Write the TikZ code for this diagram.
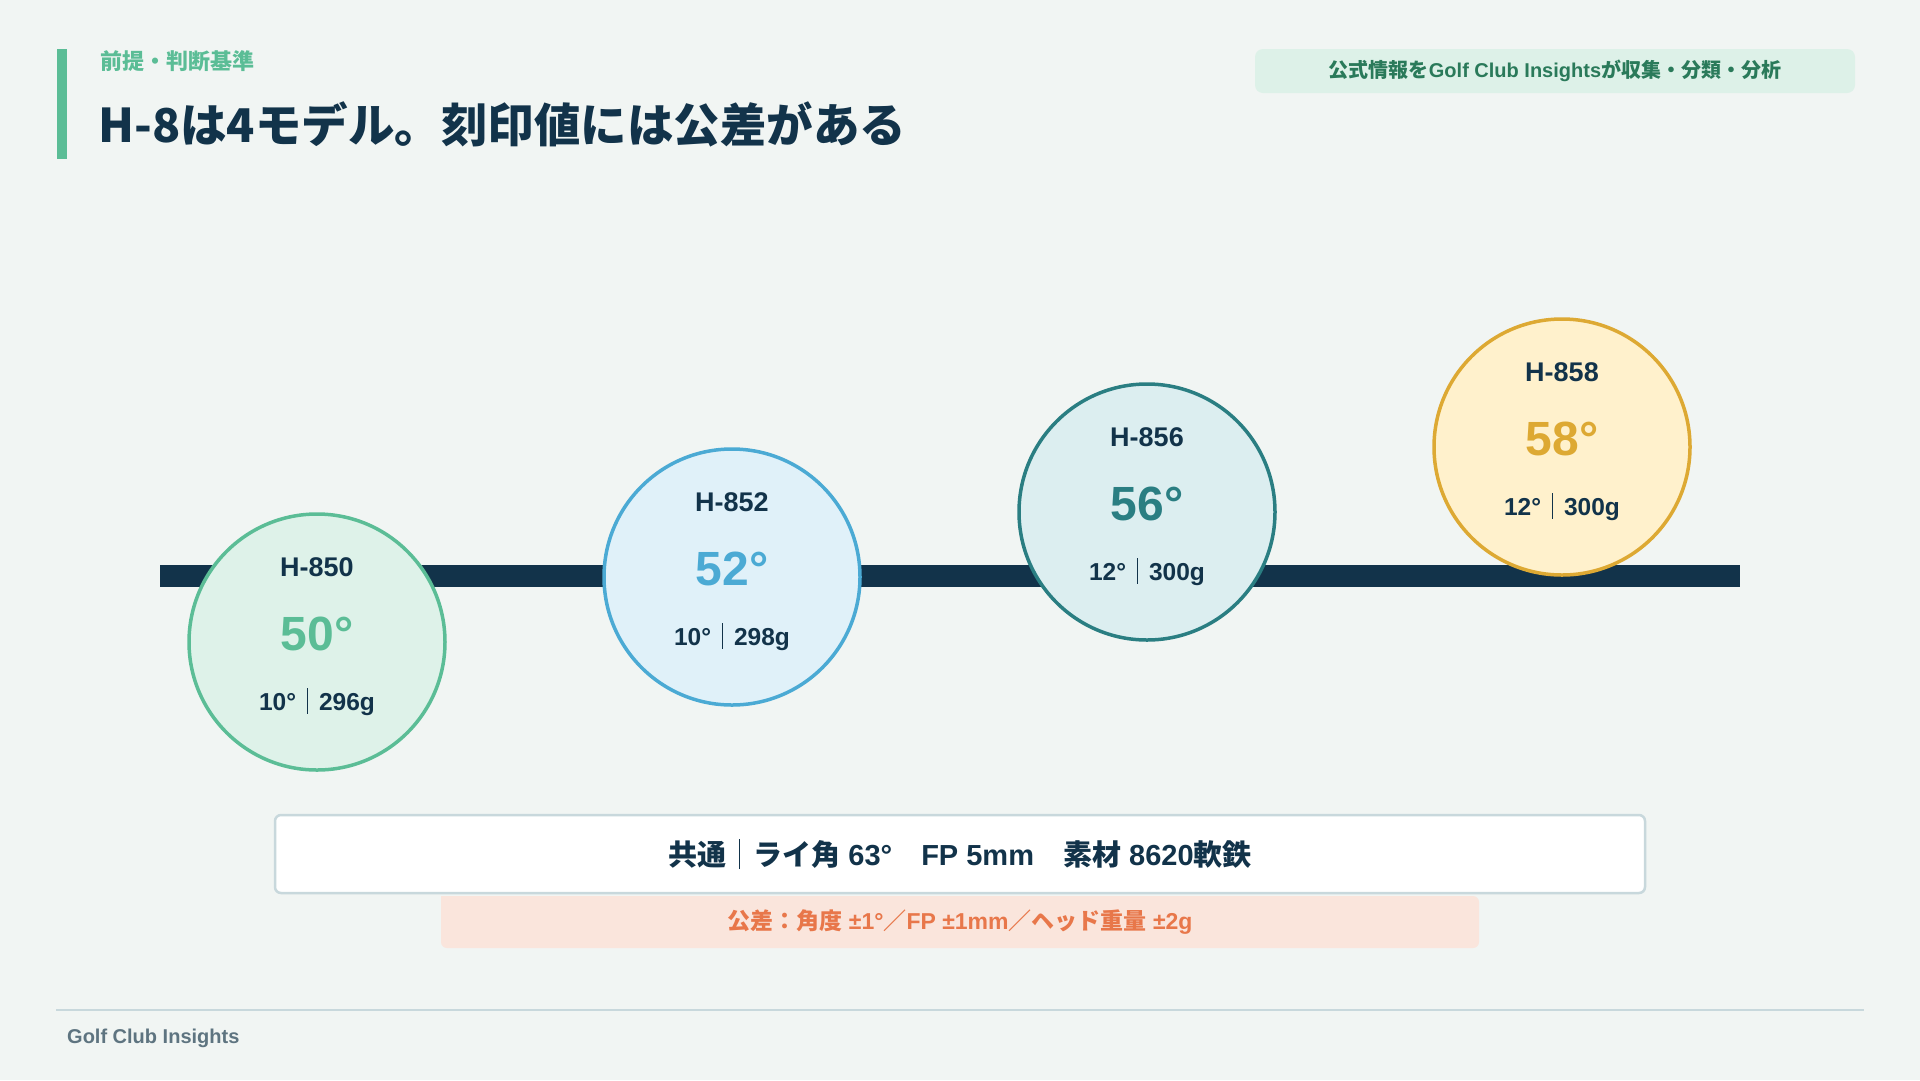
\documentclass[tikz,border=0pt]{standalone}
\usepackage{fontspec}
\setmainfont{Liberation Sans}
\newfontfamily\jp{Noto Sans CJK JP}
\usetikzlibrary{positioning}
\definecolor{bg}{HTML}{F1F5F3}
\definecolor{navy}{HTML}{12334A}
\definecolor{gA}{HTML}{5BBD96}\definecolor{gAf}{HTML}{DEF2E9}
\definecolor{bA}{HTML}{4BAAD4}\definecolor{bAf}{HTML}{E0F1F9}
\definecolor{tA}{HTML}{2A7E82}\definecolor{tAf}{HTML}{DCEEF0}
\definecolor{yA}{HTML}{DDA933}\definecolor{yAf}{HTML}{FFF1CC}
\definecolor{pillf}{HTML}{DDF1E8}\definecolor{pillt}{HTML}{2A7A5A}
\definecolor{boxline}{HTML}{C8D8DC}
\definecolor{tolf}{HTML}{FAE5DC}\definecolor{tolt}{HTML}{E8774A}
\definecolor{foot}{HTML}{5E7480}
\newcommand{\sepbar}{\hspace{0.45em}\textcolor{navy}{\rule[-0.12em]{0.9pt}{1.05em}}\hspace{0.45em}}
\tikzset{
  circ/.style={circle, minimum size=256pt, line width=3.5pt, inner sep=0pt},
  cname/.style={font=\fontsize{27}{30}\selectfont\bfseries, text=navy, inner sep=0pt},
  cdeg/.style={font=\fontsize{48}{52}\selectfont\bfseries, inner sep=0pt},
  cspec/.style={font=\fontsize{24.5}{28}\selectfont\bfseries, text=navy, inner sep=0pt},
}
\begin{document}
\begin{tikzpicture}[x=1pt,y=-1pt]
\fill[bg] (0,0) rectangle (1920,1080);
\useasboundingbox (0,0) rectangle (1920,1080);
% header
\fill[gA] (57,49) rectangle (67,159);
\node[anchor=west, inner sep=0, text=gA, font=\jp\fontsize{22}{25}\selectfont\bfseries] (sub) at (100,61) {前提・判断基準};
\node[anchor=west, inner sep=0, text=navy, font=\jp\fontsize{46.5}{50}\selectfont\bfseries] (title) at (98,124) {H-8は4モデル。刻印値には公差がある};
\node[fill=pillf, rounded corners=8pt, minimum width=600pt, minimum height=44pt, inner sep=0, text=pillt, font=\fontsize{20}{23}\selectfont\bfseries] (pill) at (1555,71) {{\jp 公式情報を}Golf Club Insights{\jp が収集・分類・分析}};
% timeline
\coordinate (tl) at (160,575.5);
\coordinate (tr) at (1740,575.5);
\draw[navy, line width=22pt] (tl) -- (tr);
% circles
\node[circ, draw=gA, fill=gAf] (c1) at (317,642) {};
\node[circ, draw=bA, fill=bAf] (c2) at (732,577) {};
\node[circ, draw=tA, fill=tAf] (c3) at (1147,512) {};
\node[circ, draw=yA, fill=yAf] (c4) at (1562,447) {};
\foreach \c/\n/\d/\s/\col in {c1/850/50/{10°\sepbar 296g}/gA, c2/852/52/{10°\sepbar 298g}/bA, c3/856/56/{12°\sepbar 300g}/tA, c4/858/58/{12°\sepbar 300g}/yA}{
  \node[cname] (\c n) at ([yshift=75pt]\c.center) {H-\n};
  \node[cdeg, text=\col] (\c d) at ([yshift=8pt]\c.center) {\d°};
  \node[cspec] (\c s) at ([yshift=-60pt]\c.center) {\s};
}
% common box
\node[draw=boxline, line width=2.5pt, fill=white, rounded corners=6pt, minimum width=1370pt, minimum height=78pt, inner sep=0, text=navy, font=\fontsize{29}{32}\selectfont\bfseries] (common) at (960,854) {{\jp 共通}\sepbar{\jp ライ角} 63°\hspace{1em}FP 5mm\hspace{1em}{\jp 素材} 8620{\jp 軟鉄}};
\path[fill=tolf, rounded corners=6pt] (441,896) -- (441,948) -- (1479,948) -- (1479,896) [sharp corners] -- cycle;
\node[inner sep=0, text=tolt, font=\fontsize{23}{26}\selectfont\bfseries] (tol) at (960,922) {{\jp 公差：角度} ±1°{\jp ／}FP ±1mm{\jp ／ヘッド重量} ±2g};
% footer
\coordinate (fl) at (56,1010);
\coordinate (fr) at (1864,1010);
\draw[boxline, line width=2pt] (fl) -- (fr);
\node[anchor=west, inner sep=0, text=foot, font=\fontsize{20}{23}\selectfont\bfseries] (footer) at (67,1038) {Golf Club Insights};
\end{tikzpicture}
\end{document}
